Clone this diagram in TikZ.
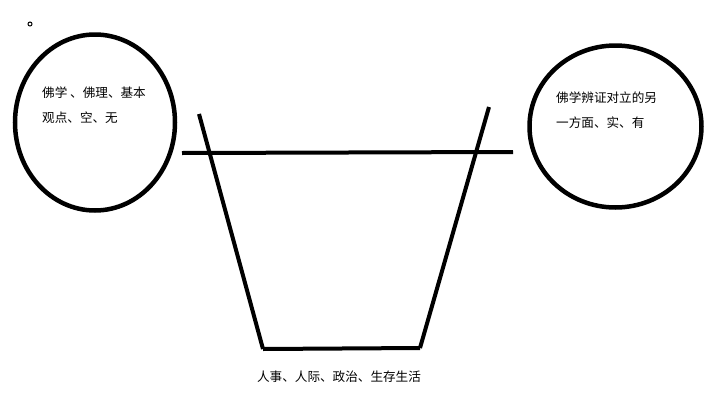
\documentclass[tikz,border=0pt]{standalone}
\usepackage{fontspec}
\newfontfamily\cjk{Noto Sans CJK SC}
\usetikzlibrary{shapes.geometric}

\begin{document}
\begin{tikzpicture}[x=1pt,y=-1pt,
				ring/.style = {ellipse,draw,line width=4.5pt,inner sep=0pt},
				label text/.style = {inner sep=0pt,align=left,font=\cjk\fontsize{12.6}{24.5}\selectfont},
				bar/.style = {line width=4pt}]
				\useasboundingbox (0,0) rectangle (713,402);
				
				\node[ring,minimum width=160,minimum height=176] (left) at (95,122.5) {};
				\node[ring,minimum width=172,minimum height=162] (right) at (615.5,126.5) {};
				\node[label text,anchor=west] (lefttext) at (42,105) {佛学 、佛理、基本\\观点、空、无};
				\node[label text,anchor=west] (righttext) at (556,110) {佛学辨证对立的另\\一方面、实、有};
				\node[label text,anchor=center] (life) at (339,377) {人事、人际、政治、生存生活};
				\draw[line width=1pt] (30,24) circle (2);
				
				\coordinate (a) at (182,153);
				\coordinate (b) at (513,152);
				\coordinate (tl) at (199,114);
				\coordinate (bl) at (263,349);
				\coordinate (br) at (420,348);
				\coordinate (tr) at (489,107);
				
				\path[bar]
				(a) edge (b)
				(tl) edge (bl)
				(bl) edge (br)
				(br) edge (tr);
				\end{tikzpicture}
\end{document}
